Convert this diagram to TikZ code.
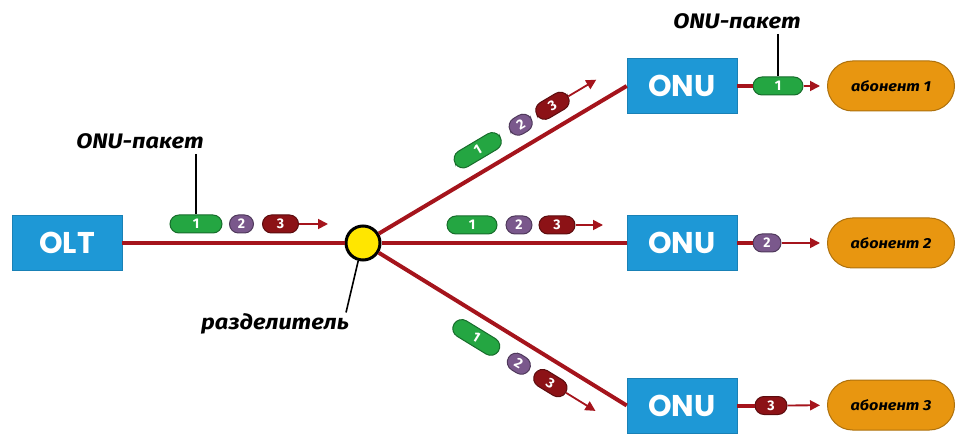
\documentclass[tikz,border=0pt]{standalone}
\usepackage{fontspec}
\setmainfont{Fira Sans}
\newfontfamily\labfont{Fira Sans}[FakeStretch=1.12]
\newfontfamily\boxfont{Poppins}
\usetikzlibrary{arrows.meta,calc}
\definecolor{boxblue}{RGB}{30,152,214}
\definecolor{fibercol}{RGB}{165,20,28}
\definecolor{pgreen}{RGB}{36,166,66}
\definecolor{ppurple}{RGB}{122,88,140}
\definecolor{pred}{RGB}{140,18,22}
\definecolor{orangeab}{RGB}{232,150,16}
\definecolor{splyellow}{RGB}{255,230,0}
\tikzset{
  unit/.style={fill=boxblue, draw=boxblue!85!black, line width=0.6pt, minimum width=110pt, minimum height=55pt, inner sep=0pt, text=white, font=\boxfont\bfseries\fontsize{30}{30}\selectfont},
  pkt/.style={fill=#1, draw=#1!65!black, line width=1pt, rounded corners=9pt, minimum height=18pt, inner sep=0pt, text=white, font=\bfseries\fontsize{14}{14}\selectfont},
  abon/.style={fill=orangeab, draw=orangeab!75!black, line width=1pt, rounded corners=25pt, minimum width=127pt, minimum height=50pt, inner sep=0pt, font=\labfont\bfseries\itshape\fontsize{14.5}{14.5}\selectfont},
  lab/.style={inner sep=1pt, font=\labfont\bfseries\itshape\fontsize{21}{21}\selectfont},
  fibre/.style={draw=fibercol, line width=4pt},
  parrow/.style={draw=fibercol, line width=1.8pt, -{Triangle[length=10pt,width=10pt]}},
  pointer/.style={draw=black, line width=1.6pt}
}
\begin{document}
\begin{tikzpicture}[x=1pt,y=-1pt]
\useasboundingbox (0,0) rectangle (957,435);
% main units
\node[unit] (olt) at (67,243) {OLT};
\node[unit] (onuA) at (682,86) {ONU};
\node[unit] (onuB) at (682,243) {ONU};
\node[unit] (onuC) at (682,405.5) {ONU};
\node[circle, fill=splyellow, draw=black, line width=3pt, minimum size=34pt, inner sep=0pt] (spl) at (363,243) {};
\node[abon] (ab1) at (891,86) {абонент 1};
\node[abon] (ab2) at (891,243) {абонент 2};
\node[abon] (ab3) at (891,405) {абонент 3};
% fibres
\draw[fibre] (olt) -- (spl);
\draw[fibre] (spl) -- (onuA.west);
\draw[fibre] (spl) -- (onuB);
\draw[fibre] (spl) -- (onuC.west);
% OLT line packets
\node[pkt=pgreen, minimum width=52pt] (o1) at (196,224) {1};
\node[pkt=ppurple, minimum width=24pt] (o2) at (241.5,224) {2};
\node[pkt=pred, minimum width=36pt] (o3) at (280.5,224) {3};
\coordinate (oe) at (328,224);
\draw[parrow] (o3) -- (oe);
% middle branch packets
\node[pkt=pgreen, minimum width=50pt] (m1) at (472,225) {1};
\node[pkt=ppurple, minimum width=26pt] (m2) at (519,225) {2};
\node[pkt=pred, minimum width=36pt] (m3) at (557,225) {3};
\coordinate (me) at (603,225);
\draw[parrow] (m3) -- (me);
% top branch packets
\node[pkt=pgreen, minimum width=52pt, rotate=30.7] (a1) at ($(spl)!146pt!(onuA.west)!21pt!90:(onuA.west)$) {1};
\node[pkt=ppurple, minimum width=24pt, rotate=30.7] (a2) at ($(spl)!196pt!(onuA.west)!21pt!90:(onuA.west)$) {2};
\node[pkt=pred, minimum width=36pt, rotate=30.7] (a3) at ($(spl)!233pt!(onuA.west)!21pt!90:(onuA.west)$) {3};
\coordinate (ae) at ($(spl)!284pt!(onuA.west)!21pt!90:(onuA.west)$);
\draw[parrow] (a3) -- (ae);
% bottom branch packets
\node[pkt=pgreen, minimum width=52pt, rotate=-31.5] (c1) at ($(spl)!146pt!(onuC.west)!21pt!-90:(onuC.west)$) {1};
\node[pkt=ppurple, minimum width=24pt, rotate=-31.5] (c2) at ($(spl)!196pt!(onuC.west)!21pt!-90:(onuC.west)$) {2};
\node[pkt=pred, minimum width=36pt, rotate=-31.5] (c3) at ($(spl)!233pt!(onuC.west)!21pt!-90:(onuC.west)$) {3};
\coordinate (ce) at ($(spl)!286pt!(onuC.west)!21pt!-90:(onuC.west)$);
\draw[parrow] (c3) -- (ce);
% ONU outputs
\node[pkt=pgreen, minimum width=50pt] (r1) at (778,86) {1};
\node[pkt=ppurple, minimum width=28pt] (r2) at (767,243) {2};
\node[pkt=pred, minimum width=32pt] (r3) at (771,405.5) {3};
\draw[fibre] (onuA) -- (r1);
\draw[fibre] (onuB) -- (r2);
\draw[fibre] (onuC) -- (r3);
\draw[parrow, shorten >=7pt] (r1) -- (ab1);
\draw[parrow, shorten >=7pt] (r2) -- (ab2);
\draw[parrow, shorten >=7pt] (r3) -- (ab3);
% labels
\node[lab] (l1) at (140,141) {ONU-пакет};
\draw[pointer] (o1.north |- l1.south) ++(0,4) -- (o1.north);
\node[lab] (l2) at (737,21) {ONU-пакет};
\draw[pointer] (r1.north |- l2.south) ++(0,4) -- (r1.north);
\node[lab] (l3) at (275,324) {разделитель};
\draw[pointer] (spl.255) -- ([xshift=-4pt]l3.north east);
\end{tikzpicture}
\end{document}
